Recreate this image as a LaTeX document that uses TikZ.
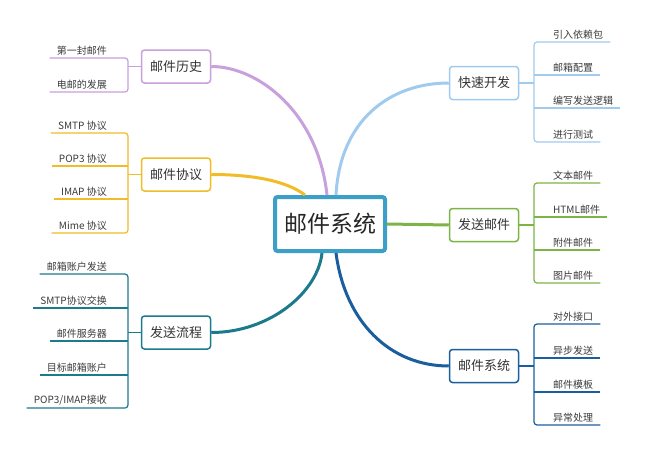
\documentclass[tikz,border=0pt]{standalone}
\usepackage{fontspec}
\setmainfont{Noto Sans CJK SC}
\usetikzlibrary{calc}
\definecolor{cPurple}{HTML}{C8A0DC}
\definecolor{cYellow}{HTML}{F0BC28}
\definecolor{cTeal}{HTML}{1C7A8C}
\definecolor{cLBlue}{HTML}{A0CAEE}
\definecolor{cGreen}{HTML}{7DB446}
\definecolor{cDBlue}{HTML}{1B5E9E}
\definecolor{cCentral}{HTML}{3C9FC8}
\definecolor{cText}{HTML}{3A3A3A}
\tikzset{
  central/.style={draw=cCentral, line width=4pt, rounded corners=2.5pt, fill=white,
    minimum width=110pt, minimum height=54pt, text=black!85,
    font=\fontsize{23}{26}\selectfont},
  branch/.style={line width=1.5pt, rounded corners=3pt, fill=white,
    minimum width=69pt, minimum height=33pt, text=black!80,
    font=\fontsize{13}{15}\selectfont},
  leafL/.style={anchor=south east, inner xsep=7pt, inner ysep=2.5pt, text=cText,
    font=\fontsize{10}{12}\selectfont},
  leafR/.style={anchor=south west, inner xsep=7pt, inner ysep=2.5pt, text=cText,
    font=\fontsize{10}{12}\selectfont},
  twig/.style={line width=1.2pt, rounded corners=3pt},
  limb/.style={line width=3pt}
}
\begin{document}
\begin{tikzpicture}[x=1pt,y=-1pt]
\useasboundingbox (0,0) rectangle (646,450);

% central
\node[central] (c) at (330,224) {邮件系统};

% branch nodes
\node[branch, draw=cPurple] (hist) at (176,66.5) {邮件历史};
\node[branch, draw=cYellow] (proto) at (176,174.5) {邮件协议};
\node[branch, draw=cTeal] (flow) at (176,332.5) {发送流程};
\node[branch, draw=cLBlue] (dev) at (484,83) {快速开发};
\node[branch, draw=cGreen] (send) at (484,225) {发送邮件};
\node[branch, draw=cDBlue] (sys) at (484,366) {邮件系统};

% bracket x positions
\coordinate (lbx) at (128,0);
\coordinate (rbx) at (534,0);

% ---- 邮件历史 leaves
\node[leafL] (h1) at (114,58) {第一封邮件};
\node[leafL] (h2) at (114,92) {电邮的发展};
\draw[twig, cPurple] (h1.south west) -- (h1.south west -| lbx) -- (h2.south west -| lbx) -- (h2.south west);
\draw[twig, cPurple] (hist.west) -- (hist.west -| lbx);

% ---- 邮件协议 leaves
\node[leafL] (p1) at (114,133) {SMTP 协议};
\node[leafL] (p2) at (114,166) {POP3 协议};
\node[leafL] (p3) at (114,199) {IMAP 协议};
\node[leafL] (p4) at (114,233) {Mime 协议};
\draw[twig, cYellow] (p1.south west) -- (p1.south west -| lbx) -- (p4.south west -| lbx) -- (p4.south west);
\draw[twig, cYellow] (p2.south west) -- (p2.south west -| lbx);
\draw[twig, cYellow] (p3.south west) -- (p3.south west -| lbx);
\draw[twig, cYellow] (proto.west) -- (proto.west -| lbx);

% ---- 发送流程 leaves
\node[leafL] (f1) at (114,274) {邮箱账户发送};
\node[leafL] (f2) at (114,308) {SMTP协议交换};
\node[leafL] (f3) at (114,341) {邮件服务器};
\node[leafL] (f4) at (114,375) {目标邮箱账户};
\node[leafL] (f5) at (114,408) {POP3/IMAP接收};
\draw[twig, cTeal] (f1.south west) -- (f1.south west -| lbx) -- (f5.south west -| lbx) -- (f5.south west);
\draw[twig, cTeal] (f2.south west) -- (f2.south west -| lbx);
\draw[twig, cTeal] (f3.south west) -- (f3.south west -| lbx);
\draw[twig, cTeal] (f4.south west) -- (f4.south west -| lbx);
\draw[twig, cTeal] (flow.west) -- (flow.west -| lbx);

% ---- 快速开发 leaves
\node[leafR] (d1) at (546,42) {引入依赖包};
\node[leafR] (d2) at (546,75) {邮箱配置};
\node[leafR] (d3) at (546,108) {编写发送逻辑};
\node[leafR] (d4) at (546,142) {进行测试};
\draw[twig, cLBlue] (d1.south east) -- (d1.south east -| rbx) -- (d4.south east -| rbx) -- (d4.south east);
\draw[twig, cLBlue] (d2.south east) -- (d2.south east -| rbx);
\draw[twig, cLBlue] (d3.south east) -- (d3.south east -| rbx);
\draw[twig, cLBlue] (dev.east) -- (dev.east -| rbx);

% ---- 发送邮件 leaves
\node[leafR] (s1) at (546,183) {文本邮件};
\node[leafR] (s2) at (546,217) {HTML邮件};
\node[leafR] (s3) at (546,250) {附件邮件};
\node[leafR] (s4) at (546,283) {图片邮件};
\draw[twig, cGreen] (s1.south east) -- (s1.south east -| rbx) -- (s4.south east -| rbx) -- (s4.south east);
\draw[twig, cGreen] (s2.south east) -- (s2.south east -| rbx);
\draw[twig, cGreen] (s3.south east) -- (s3.south east -| rbx);
\draw[twig, cGreen] (send.east) -- (send.east -| rbx);

% ---- 邮件系统 leaves
\node[leafR] (y1) at (546,324) {对外接口};
\node[leafR] (y2) at (546,358) {异步发送};
\node[leafR] (y3) at (546,392) {邮件模板};
\node[leafR] (y4) at (546,425) {异常处理};
\draw[twig, cDBlue] (y1.south east) -- (y1.south east -| rbx) -- (y4.south east -| rbx) -- (y4.south east);
\draw[twig, cDBlue] (y2.south east) -- (y2.south east -| rbx);
\draw[twig, cDBlue] (y3.south east) -- (y3.south east -| rbx);
\draw[twig, cDBlue] (sys.east) -- (sys.east -| rbx);

% ---- main limbs
\draw[limb, cPurple] (hist.east) .. controls (258,66.5) and (318,112) .. ([xshift=-3pt]c.north);
\draw[limb, cYellow] (proto.east) .. controls (250,174.5) and (285,180) .. ([xshift=-25pt]c.north);
\draw[limb, cLBlue] (dev.west) .. controls (390,83) and (340,120) .. ([xshift=6pt]c.north);
\draw[limb, cGreen] (c.east) -- (send.west);
\draw[limb, cDBlue] ([xshift=6pt]c.south) .. controls (345,322) and (390,366) .. (sys.west);
\draw[limb, cTeal] (flow.east) .. controls (270,332.5) and (318,292) .. ([xshift=-8pt]c.south);
\end{tikzpicture}
\end{document}
